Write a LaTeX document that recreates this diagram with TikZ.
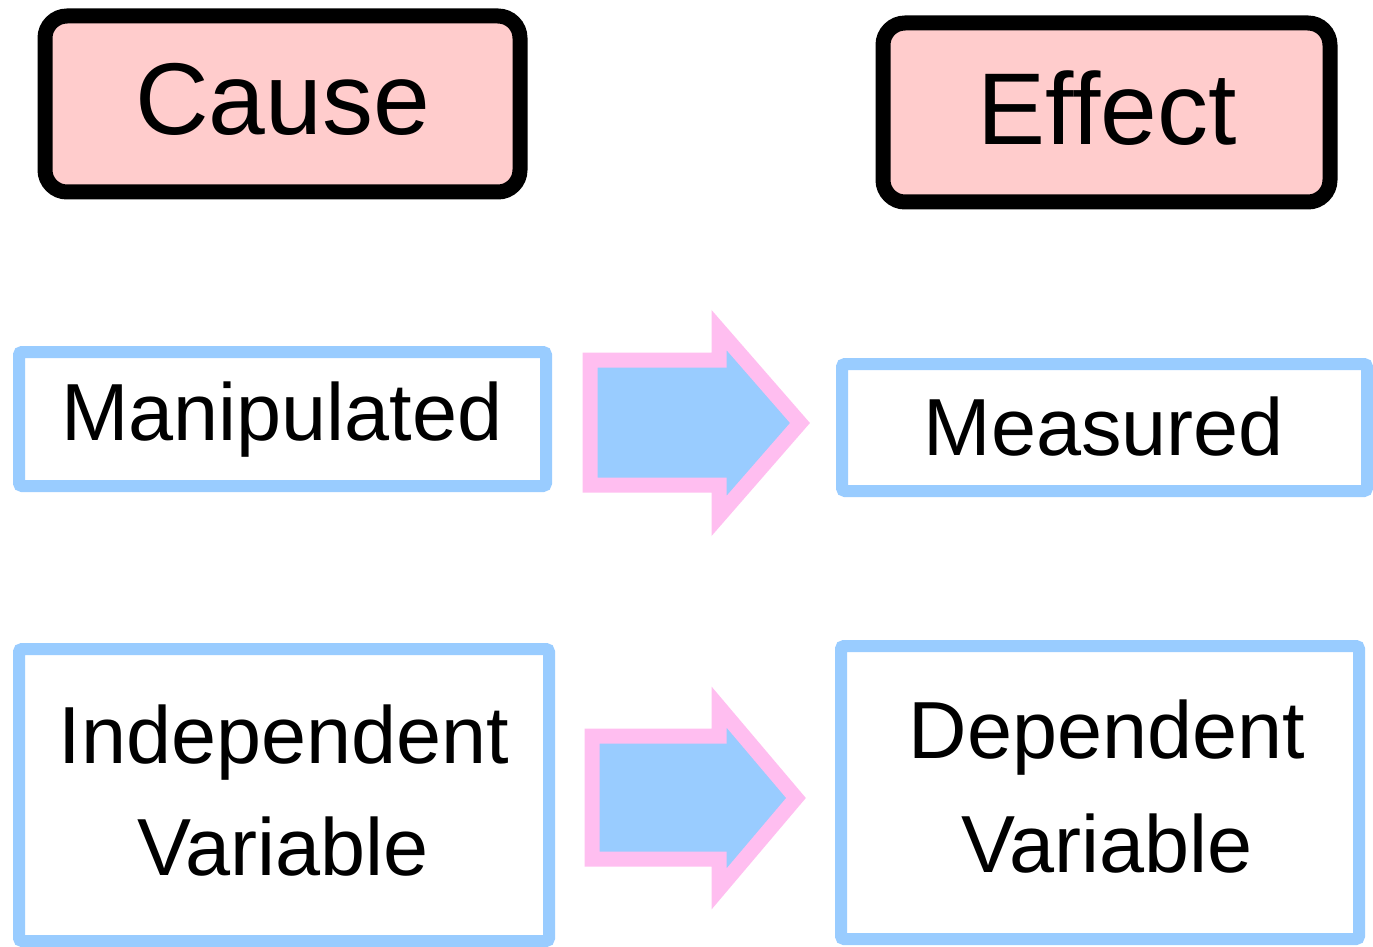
\documentclass[tikz,border=0pt]{standalone}
\usepackage{fontspec}
\setmainfont{Liberation Sans}
\definecolor{pinkfill}{RGB}{255,204,204}
\definecolor{bluebd}{RGB}{153,204,255}
\definecolor{arrowfill}{RGB}{153,204,255}
\definecolor{arrowbd}{RGB}{255,190,240}
\tikzset{
  headbox/.style={draw=black, line width=7.5pt, fill=pinkfill, rounded corners=11pt, inner sep=0pt},
  varbox/.style={draw=bluebd, line width=6pt, fill=white, rounded corners=1.5pt, inner sep=0pt},
  bigtext/.style={font=\fontsize{51}{60}\selectfont, anchor=base, inner sep=0pt},
  midtext/.style={font=\fontsize{40.5}{48}\selectfont, anchor=base, inner sep=0pt},
  blockarrow/.style={draw=arrowbd, line width=7.5pt, fill=arrowfill, line join=miter},
}
\begin{document}
\begin{tikzpicture}[x=0.5pt,y=-0.5pt]
\useasboundingbox (0,0) rectangle (1373,947);
\fill[white] (0,0) rectangle (1373,947);
% header boxes
\node[headbox, minimum width=237.5pt, minimum height=88pt] (cause) at (282.5,104) {};
\node[bigtext] (causetext) at (282.5,135) {Cause};
\node[headbox, minimum width=223.5pt, minimum height=89.5pt] (effect) at (1106.5,112.5) {};
\node[bigtext] (effecttext) at (1107,145) {Effect};
% variable boxes
\node[varbox, minimum width=263.5pt, minimum height=67pt] (manip) at (282.5,419) {};
\node[midtext] (maniptext) at (282,440) {Manipulated};
\node[varbox, minimum width=262.5pt, minimum height=63.5pt] (meas) at (1104.5,427.5) {};
\node[midtext] (meastext) at (1104,455) {Measured};
\node[varbox, minimum width=265pt, minimum height=146pt] (indep) at (284,795) {};
\node[midtext] (indeptextA) at (284,763) {Independent};
\node[midtext] (indeptextB) at (283,875) {Variable};
\node[varbox, minimum width=259pt, minimum height=146.5pt] (dep) at (1100,792.5) {};
\node[midtext] (deptextA) at (1107,758) {Dependent};
\node[midtext] (deptextB) at (1107,872) {Variable};
% block arrows
\draw[blockarrow] (590,360) -- (719,360) -- (719,330) -- (800,423) -- (719,516) -- (719,485) -- (590,485) -- cycle;
\draw[blockarrow] (592,736) -- (719,736) -- (719,707) -- (796,798) -- (719,889) -- (719,859) -- (592,859) -- cycle;
\end{tikzpicture}
\end{document}
